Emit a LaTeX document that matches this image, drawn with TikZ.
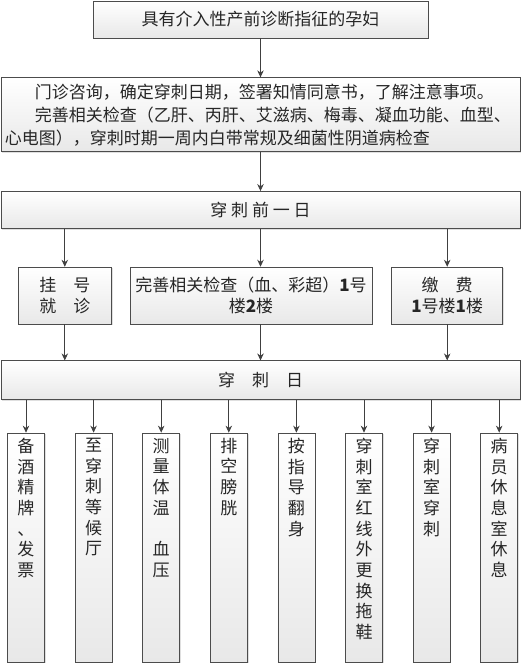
\documentclass[tikz,border=0pt]{standalone}
\usepackage{fontspec}
\newfontfamily\cjk{Noto Sans CJK SC}
\usetikzlibrary{positioning,shadows,arrows.meta}
\tikzset{every node/.style={align=center}}

\begin{document}
\begin{tikzpicture}[x=1pt,y=-1pt,>={Stealth[length=7pt,width=6.5pt]},line width=0.8pt,draw=black!75,
  box/.style={rectangle,draw=black!70,line width=0.7pt,top color=white,bottom color=black!9,
    drop shadow={shadow xshift=1.2pt,shadow yshift=-1.2pt,opacity=0.25},
    text=black!85,font=\cjk\fontsize{17}{21.5}\selectfont},
  col/.style={box,minimum width=37pt,minimum height=229pt,inner sep=5pt,font=\cjk\fontsize{17}{20.7}\selectfont}]
\useasboundingbox (0,0) rectangle (532,665);

\node[box,minimum width=335pt,minimum height=37pt] (start) at (260.5,19.5) {具有介入性产前诊断指征的孕妇};
\node[box,text width=511pt,inner xsep=4pt,minimum height=74pt,align=left,font=\cjk\fontsize{17}{23}\selectfont,below=39pt of start] (consult)
  {\hspace*{30pt}门诊咨询，确定穿刺日期，签署知情同意书，了解注意事项。\\
   \hspace*{30pt}完善相关检查（乙肝、丙肝、艾滋病、梅毒、凝血功能、血型、\\
   心电图），穿刺时期一周内白带常规及细菌性阴道病检查};
\node[box,minimum width=519pt,minimum height=37pt,below=39pt of consult] (prev) {穿 刺 前 一 日};

\node[box,minimum width=242pt,minimum height=57pt,inner xsep=3pt,below=38pt of prev,xshift=-9.5pt] (exam) {完善相关检查（血、彩超）{\bfseries 1}号\\楼{\bfseries 2}楼};
\node[box,minimum width=93pt,minimum height=57pt,left=18pt of exam] (reg) {挂　号\\就　诊};
\node[box,minimum width=111pt,minimum height=57pt,right=19pt of exam] (pay) {缴　费\\{\bfseries 1}号楼{\bfseries 1}楼};

\node[box,minimum width=519pt,minimum height=39pt,below=36pt of exam,xshift=9.5pt] (day) {穿　刺　日};

% steps of the puncture day
\node[col] (c1) at (26,547.5) {\parbox[c][219pt][t]{20pt}{\centering 备\\酒\\精\\牌\\、\\发\\票}};
\node[col,right=29.9pt of c1] (c2) {\parbox[c][219pt][t]{20pt}{\centering 至\\穿\\刺\\等\\候\\厅}};
\node[col,right=29.9pt of c2] (c3) {\parbox[c][219pt][t]{20pt}{\centering 测\\量\\体\\温\\[20.7pt]血\\压}};
\node[col,right=29.9pt of c3] (c4) {\parbox[c][219pt][t]{20pt}{\centering 排\\空\\膀\\胱}};
\node[col,right=29.9pt of c4] (c5) {\parbox[c][219pt][t]{20pt}{\centering 按\\指\\导\\翻\\身}};
\node[col,right=29.9pt of c5] (c6) {\parbox[c][219pt][t]{20pt}{\centering 穿\\刺\\室\\红\\线\\外\\更\\换\\拖\\鞋}};
\node[col,right=29.9pt of c6] (c7) {\parbox[c][219pt][t]{20pt}{\centering 穿\\刺\\室\\穿\\刺}};
\node[col,right=29.9pt of c7] (c8) {\parbox[c][219pt][t]{20pt}{\centering 病\\员\\休\\息\\室\\休\\息}};

\draw[->] (start) -- (consult);
\draw[->] (consult) -- (prev);
\draw[->] (prev.south -| reg) -- (reg);
\draw[->] (prev) -- (prev |- exam.north);
\draw[->] (prev.south -| pay) -- (pay);
\draw[->] (reg) -- (reg |- day.north);
\draw[->] (exam.south -| day) -- (day);
\draw[->] (pay) -- (pay |- day.north);
\draw[->] (day.south -| c1) -- (c1);
\draw[->] (day.south -| c2) -- (c2);
\draw[->] (day.south -| c3) -- (c3);
\draw[->] (day.south -| c4) -- (c4);
\draw[->] (day.south -| c5) -- (c5);
\draw[->] (day.south -| c6) -- (c6);
\draw[->] (day.south -| c7) -- (c7);
\draw[->] (day.south -| c8) -- (c8);

\end{tikzpicture}
\end{document}
